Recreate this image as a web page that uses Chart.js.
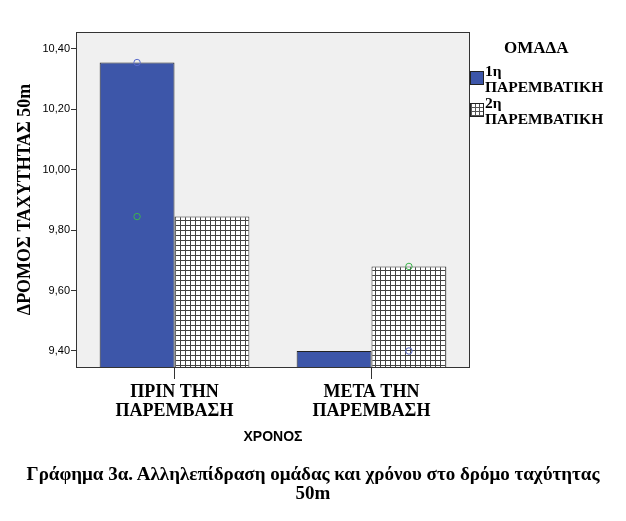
<!DOCTYPE html>
<html>
<head>
<meta charset="utf-8">
<script src="https://cdn.jsdelivr.net/npm/chart.js@4/dist/chart.umd.min.js"></script>
<style>
  body { margin: 0; background: #fff; }
  #wrap { position: relative; width: 626px; height: 521px; }
  #chart { position: absolute; left: 0; top: 0; }
  .serif { font-family: "Liberation Serif", "Times New Roman", serif; font-weight: bold; color: #000; }
  #legend { position: absolute; left: 468px; top: 38px; width: 158px; }
  #legend .title { position: absolute; left: 36px; top: 0; font-size: 17px; }
  .item { position: absolute; left: 0; font-size: 15.5px; line-height: 16px; }
  .sw { position: absolute; left: 2px; width: 12px; height: 12px; border: 1px solid #222; }
  .item .txt { position: absolute; left: 17px; top: 0; white-space: nowrap; }
  .hatch {
    background-color: #fff;
    background-image:
      repeating-linear-gradient(0deg, #555 0 1px, transparent 1px 4px),
      repeating-linear-gradient(90deg, #555 0 1px, transparent 1px 4px);
  }
  #caption { position: absolute; left: 0; top: 464px; width: 626px; text-align: center; font-size: 19px; line-height: 19px; }
</style>
</head>
<body>
<div id="wrap">
  <canvas id="chart" width="626" height="521"></canvas>
  <div id="legend" class="serif">
    <div class="title">ΟΜΑΔΑ</div>
    <div class="item" style="top:25px"><div class="sw" style="top:8px;background:#3d56a9"></div><div class="txt">1η<br>ΠΑΡΕΜΒΑΤΙΚΗ</div></div>
    <div class="item" style="top:57px"><div class="sw hatch" style="top:8px"></div><div class="txt">2η<br>ΠΑΡΕΜΒΑΤΙΚΗ</div></div>
  </div>
  <div id="caption" class="serif">Γράφημα 3α. Αλληλεπίδραση ομάδας και χρόνου στο δρόμο ταχύτητας<br>50m</div>
</div>
<script>
// Data
const categories = [['ΠΡΙΝ ΤΗΝ', 'ΠΑΡΕΜΒΑΣΗ'], ['ΜΕΤΑ ΤΗΝ', 'ΠΑΡΕΜΒΑΣΗ']];
const group1 = [10.355, 9.40];
const group2 = [9.845, 9.68];
const yTicks = [9.40, 9.60, 9.80, 10.00, 10.20, 10.40];
const yMin = 9.347;
const yMax = 10.456;

// Hatch pattern for 2nd group
function makeHatch() {
    const c = document.createElement('canvas');
    c.width = 5; c.height = 5;
    const g = c.getContext('2d');
    g.fillStyle = '#fff';
    g.fillRect(0, 0, 5, 5);
    g.fillStyle = '#444';
    g.fillRect(0, 0, 5, 1);
    g.fillRect(0, 0, 1, 5);
    return g.createPattern(c, 'repeat');
}

// Plot background + frame
const plotFrame = {
    id: 'plotFrame',
    beforeDatasetsDraw(chart) {
        const a = chart.chartArea, ctx = chart.ctx;
        ctx.save();
        ctx.fillStyle = '#f0f0f0';
        ctx.fillRect(a.left, a.top, a.right - a.left, a.bottom - a.top);
        ctx.restore();
    },
    afterDatasetsDraw(chart) {
        const a = chart.chartArea, ctx = chart.ctx;
        ctx.save();
        ctx.strokeStyle = '#333';
        ctx.lineWidth = 1;
        ctx.strokeRect(a.left + 0.5, a.top + 0.5, a.right - a.left - 1, a.bottom - a.top);
        ctx.restore();
    }
};

// Small mean markers, as in the SPSS output
const meanMarks = {
    id: 'meanMarks',
    afterDatasetsDraw(chart) {
        const ctx = chart.ctx, y = chart.scales.y;
        const m0 = chart.getDatasetMeta(0), m1 = chart.getDatasetMeta(1);
        ctx.save();
        ctx.lineWidth = 1;
        categories.forEach((c, i) => {
            const x = (i === 0 ? m0 : m1).data[i].x;
            [[group1[i], '#5a6ccc'], [group2[i], '#3cb44b']].forEach(([v, col]) => {
                ctx.strokeStyle = col;
                ctx.beginPath();
                ctx.arc(x, y.getPixelForValue(v), 3.2, 0, Math.PI * 2);
                ctx.stroke();
            });
        });
        ctx.restore();
    }
};

new Chart(document.getElementById('chart'), {
    type: 'bar',
    data: {
        labels: categories,
        datasets: [
            { label: '1η ΠΑΡΕΜΒΑΤΙΚΗ', data: group1, backgroundColor: '#3d56a9', borderColor: '#222', borderWidth: 1 },
            { label: '2η ΠΑΡΕΜΒΑΤΙΚΗ', data: group2, backgroundColor: makeHatch(), borderColor: '#333', borderWidth: 1 }
        ]
    },
    options: {
        responsive: false,
        animation: false,
        layout: { padding: { top: 32, right: 156, left: 15, bottom: 75 } },
        categoryPercentage: 0.76,
        barPercentage: 1.0,
        plugins: { legend: { display: false }, tooltip: { enabled: false } },
        scales: {
            x: {
                grid: { offset: false, drawOnChartArea: false, drawTicks: true, tickLength: 12, color: '#333' },
                border: { display: false },
                ticks: { color: '#000', padding: 3, font: { family: "'Liberation Serif', serif", weight: 'bold', size: 18, lineHeight: 1.1 } },
                title: { display: true, text: 'ΧΡΟΝΟΣ', color: '#000', padding: { top: 12, bottom: 0 }, font: { family: "'Liberation Sans', sans-serif", weight: 'bold', size: 14 } },
                afterFit(s) { s.height = 79; }
            },
            y: {
                min: yMin,
                max: yMax,
                grid: { drawOnChartArea: false, tickLength: 5, color: '#333' },
                border: { display: false },
                afterBuildTicks(s) { s.ticks = yTicks.map(v => ({ value: v })); },
                ticks: {
                    color: '#000', padding: 1,
                    font: { family: "'Liberation Sans', sans-serif", size: 11 },
                    callback: v => v.toFixed(2).replace('.', ',')
                },
                title: { display: true, text: 'ΔΡΟΜΟΣ ΤΑΧΥΤΗΤΑΣ 50m', color: '#000', padding: 0, font: { family: "'Liberation Serif', serif", weight: 'bold', size: 18 } },
                afterFit(s) { s.width = 61; }
            }
        }
    },
    plugins: [plotFrame, meanMarks]
});
</script>
</body>
</html>
